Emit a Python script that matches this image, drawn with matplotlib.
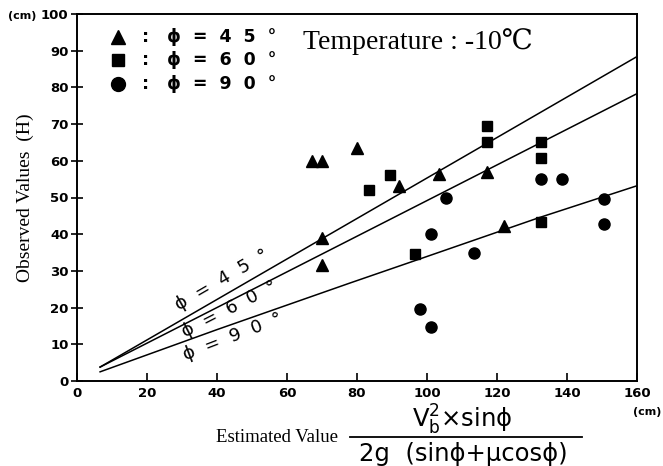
import matplotlib.pyplot as plt

# observed points: (estimated value, observed H), cm
tri_x = [67, 70, 80, 70, 70, 92, 103.5, 117, 122]
tri_y = [60, 60, 63.5, 39, 31.5, 53, 56.5, 57, 42.3]
sq_x = [83.5, 89.5, 117, 117, 132.5, 132.5, 132.5, 96.5]
sq_y = [52, 56, 69.5, 65, 65, 60.8, 43.2, 34.6]
cir_x = [105.5, 101, 113.5, 132.5, 138.5, 150.5, 150.5, 98, 101]
cir_y = [50, 40, 35, 55, 55, 49.6, 42.8, 19.6, 14.7]

# theoretical curves
line45_x = [6.6, 160]
line45_y = [3.8, 88.4]
line60_x = [6.6, 160]
line60_y = [3.8, 78.3]
line90_x = [6.6, 40, 78, 99, 132, 160]
line90_y = [2.5, 14, 26.7, 33.6, 44.5, 53.2]

xticks = [0, 20, 40, 60, 80, 100, 120, 140, 160]
yticks = [0, 10, 20, 30, 40, 50, 60, 70, 80, 90, 100]

serif = ['Liberation Serif', 'DejaVu Serif', 'DejaVu Sans']
tickfont = ['Liberation Sans Narrow', 'DejaVu Sans']

fig = plt.figure(figsize=(6.63, 4.66), dpi=100)
ax = fig.add_axes([77/663, 1 - 381/466, 560/663, 367/466])

# curves
ax.plot(line45_x, line45_y, 'k', lw=1.1)
ax.plot(line60_x, line60_y, 'k', lw=1.1)
ax.plot(line90_x, line90_y, 'k', lw=1.1)

# points
ax.plot(tri_x, tri_y, 'k^', ms=8.5, ls='none')
ax.plot(sq_x, sq_y, 'ks', ms=7.5, ls='none')
ax.plot(cir_x, cir_y, 'ko', ms=8, ls='none')

# curve labels
ax.text(41.5, 27.5, 'ϕ  =  4  5  °', rotation=30, fontsize=13,
        ha='center', va='center')
ax.text(43.5, 19.5, 'ϕ  =  6  0  °', rotation=27, fontsize=13,
        ha='center', va='center')
ax.text(44.5, 12.0, 'ϕ  =  9  0  °', rotation=21, fontsize=13,
        ha='center', va='center')

# legend drawn by hand
leg_y = [93.8, 87.5, 81]
ax.plot([11.7], [leg_y[0]], 'k^', ms=10)
ax.plot([11.7], [leg_y[1]], 'ks', ms=9)
ax.plot([11.7], [leg_y[2]], 'ko', ms=10)
for yy, txt in zip(leg_y, [':   ϕ  =  4  5  °', ':   ϕ  =  6  0  °', ':   ϕ  =  9  0  °']):
    ax.text(18.5, yy, txt, fontsize=12.5, fontweight='bold', va='center')

ax.text(64.5, 92.6, 'Temperature : -10℃', fontsize=20, family=serif, va='center')

ax.set_xlim(0, 160)
ax.set_ylim(0, 100)
ax.set_xticks(xticks)
ax.set_yticks(yticks)
ax.set_xticklabels([str(v) for v in xticks], family=tickfont, fontweight='bold', fontsize=9.5)
ax.set_yticklabels([str(v) for v in yticks], family=tickfont, fontweight='bold', fontsize=9.5)
ax.tick_params(axis='x', direction='in', length=6, width=1.2, pad=4)
ax.tick_params(axis='y', direction='inout', length=8, width=1.2, pad=2)
for s in ax.spines.values():
    s.set_linewidth(1.4)

ax.set_ylabel('Observed Values  (H)', family=serif, fontsize=14, labelpad=5)

fig.text(22/663, 1 - 16/466, '(cm)', family=tickfont, fontweight='bold', fontsize=8,
         ha='center', va='center')
fig.text(661/663, 1 - 412/466, '(cm)', family=tickfont, fontweight='bold', fontsize=8,
         ha='right', va='center')

# x label with fraction
fig.text(277/663, 1 - 438/466, 'Estimated Value', family=serif, fontsize=13.5,
         ha='center', va='center')
fig.text(462/663, 1 - 420/466, r'V$_\mathregular{b}^\mathregular{2}$×sinϕ', fontsize=17.5,
         ha='center', va='center')
fig.add_artist(plt.Line2D([350/663, 582/663], [1 - 437/466, 1 - 437/466], color='k', lw=1.3))
fig.text(463/663, 1 - 454/466, '2g  (sinϕ+μcosϕ)', fontsize=17.5,
         ha='center', va='center')

fig.savefig('out.png', dpi=100)
